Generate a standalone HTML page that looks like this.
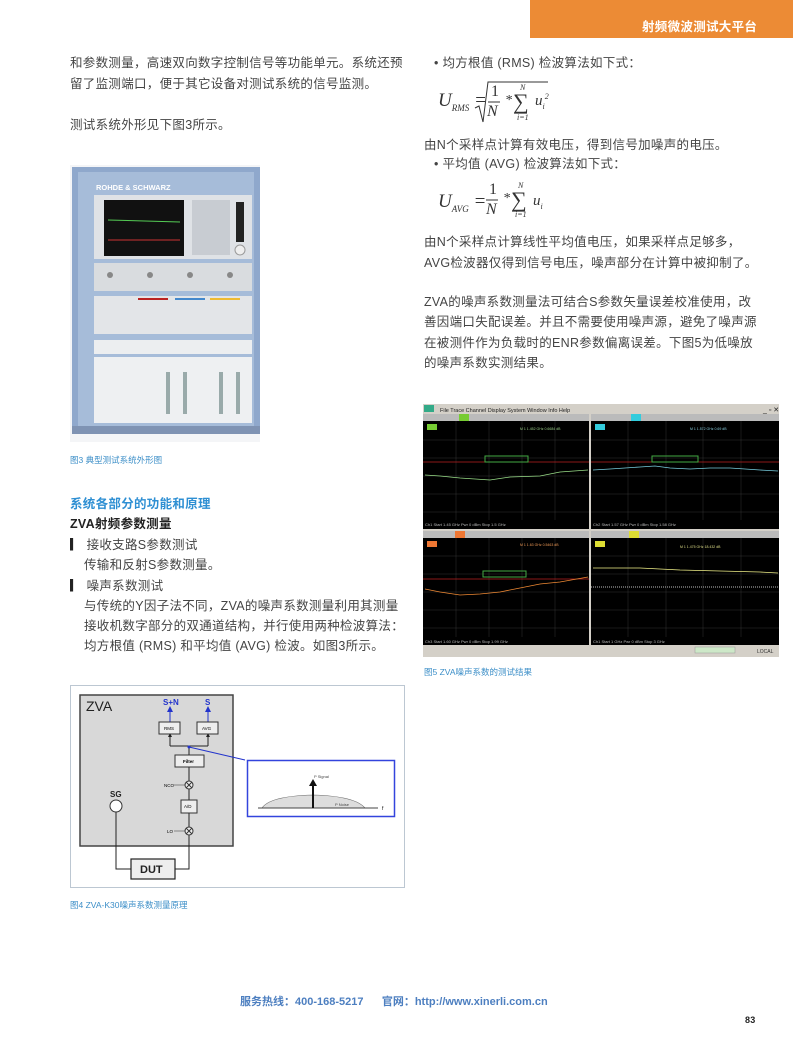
<!DOCTYPE html>
<html><head><meta charset="utf-8"><style>
body{margin:0;background:#fff;}
#p{position:relative;width:793px;height:1058px;overflow:hidden;font-family:"Liberation Sans","Noto Sans CJK SC",sans-serif;color:#444;}
.t{position:absolute;white-space:nowrap;font-size:12.5px;line-height:14px;letter-spacing:0.3px;}
.cap{position:absolute;white-space:nowrap;font-size:8.5px;color:#3d8fc8;}
.hd{color:#fff;font-weight:bold;font-size:12.5px;}
svg{position:absolute;left:0;top:0;}
.f{position:absolute;font-family:"Liberation Serif",serif;font-style:italic;color:#333;white-space:nowrap;}
</style></head><body><div id="p">
<div style="position:absolute;left:530px;top:0;width:263px;height:38px;background:#ec8b35;"></div>
<div class="t hd" style="left:642px;top:20px;">射频微波测试大平台</div>

<div class="t" style="left:70px;top:56px;">和参数测量，高速双向数字控制信号等功能单元。系统还预</div>
<div class="t" style="left:70px;top:77px;">留了监测端口，便于其它设备对测试系统的信号监测。</div>
<div class="t" style="left:70px;top:118px;">测试系统外形见下图3所示。</div>
<div class="cap" style="left:70px;top:454px;">图3 典型测试系统外形图</div>
<div class="t" style="left:70px;top:497px;color:#2e8fd3;font-weight:bold;">系统各部分的功能和原理</div>
<div class="t" style="left:70px;top:517px;color:#222;font-weight:bold;">ZVA射频参数测量</div>
<div class="t" style="left:70px;top:538px;"><b style="color:#222">&#9614;</b> 接收支路S参数测试</div>
<div class="t" style="left:84px;top:558px;">传输和反射S参数测量。</div>
<div class="t" style="left:70px;top:579px;"><b style="color:#222">&#9614;</b> 噪声系数测试</div>
<div class="t" style="left:84px;top:599px;">与传统的Y因子法不同，ZVA的噪声系数测量利用其测量</div>
<div class="t" style="left:84px;top:619px;">接收机数字部分的双通道结构，并行使用两种检波算法：</div>
<div class="t" style="left:84px;top:639px;">均方根值 (RMS) 和平均值 (AVG) 检波。如图3所示。</div>
<div class="cap" style="left:70px;top:899px;">图4  ZVA-K30噪声系数测量原理</div>

<div class="t" style="left:434px;top:56px;">• 均方根值 (RMS) 检波算法如下式：</div>
<div class="t" style="left:424px;top:138px;">由N个采样点计算有效电压，得到信号加噪声的电压。</div>
<div class="t" style="left:434px;top:157px;">• 平均值 (AVG) 检波算法如下式：</div>
<div class="t" style="left:424px;top:235px;">由N个采样点计算线性平均值电压，如果采样点足够多，</div>
<div class="t" style="left:424px;top:256px;">AVG检波器仅得到信号电压，噪声部分在计算中被抑制了。</div>
<div class="t" style="left:424px;top:295px;">ZVA的噪声系数测量法可结合S参数矢量误差校准使用，改</div>
<div class="t" style="left:424px;top:315px;">善因端口失配误差。并且不需要使用噪声源，避免了噪声源</div>
<div class="t" style="left:424px;top:336px;">在被测件作为负载时的ENR参数偏离误差。下图5为低噪放</div>
<div class="t" style="left:424px;top:356px;">的噪声系数实测结果。</div>
<div class="cap" style="left:424px;top:666px;">图5 ZVA噪声系数的测试结果</div>

<!-- formulas -->
<div class="f" style="left:438px;top:90px;font-size:19px;">U<sub style="font-size:9px">RMS</sub> =</div>
<div class="f" style="left:491px;top:83px;font-size:16px;font-style:normal;">1</div>
<div class="f" style="left:487px;top:103px;font-size:16px;">N</div>
<div class="f" style="left:505px;top:93px;font-size:14px;">*</div>
<div class="f" style="left:513px;top:89px;font-size:22px;font-style:normal;">&#8721;</div>
<div class="f" style="left:520px;top:83px;font-size:8px;">N</div>
<div class="f" style="left:517px;top:113px;font-size:8px;">i=1</div>
<div class="f" style="left:535px;top:92px;font-size:15px;">u<sub style="font-size:8px">i</sub><sup style="font-size:8px">2</sup></div>
<div class="f" style="left:438px;top:191px;font-size:19px;">U<sub style="font-size:9px">AVG</sub> =</div>
<div class="f" style="left:489px;top:181px;font-size:16px;font-style:normal;">1</div>
<div class="f" style="left:486px;top:201px;font-size:16px;">N</div>
<div class="f" style="left:503px;top:191px;font-size:14px;">*</div>
<div class="f" style="left:511px;top:187px;font-size:22px;font-style:normal;">&#8721;</div>
<div class="f" style="left:518px;top:181px;font-size:8px;">N</div>
<div class="f" style="left:515px;top:210px;font-size:8px;">i=1</div>
<div class="f" style="left:533px;top:193px;font-size:15px;">u<sub style="font-size:8px">i</sub></div>

<svg width="793" height="1058" viewBox="0 0 793 1058" font-family="Liberation Sans, sans-serif">
<line x1="488" y1="102" x2="500" y2="102" stroke="#333"/>
<path d="M475 108 L479 106 L483 122 L488 82 L548 82" fill="none" stroke="#333"/>
<line x1="486" y1="200" x2="498" y2="200" stroke="#333"/>

<!-- photo -->
<rect x="70" y="165" width="190" height="277" fill="#f4f5f7"/>
<rect x="72" y="167" width="188" height="266" fill="#8fa8cc"/>
<rect x="78" y="172" width="176" height="255" fill="#a6bcd9"/>
<text x="96" y="190" font-size="7.5" fill="#fff" font-weight="bold">ROHDE &amp; SCHWARZ</text>
<rect x="94" y="195" width="158" height="64" fill="#dfe2e6"/>
<rect x="104" y="200" width="80" height="56" fill="#111"/>
<line x1="108" y1="220" x2="180" y2="222" stroke="#5c5"/>
<line x1="108" y1="240" x2="180" y2="240" stroke="#c33"/>
<rect x="192" y="200" width="38" height="55" fill="#c8ccd2"/>
<rect x="236" y="202" width="8" height="40" fill="#222"/>
<circle cx="240" cy="250" r="5" fill="#eee" stroke="#999"/>
<rect x="94" y="263" width="158" height="28" fill="#d9dcdf"/>
<g fill="#888"><circle cx="110" cy="275" r="3"/><circle cx="150" cy="275" r="3"/><circle cx="190" cy="275" r="3"/><circle cx="230" cy="275" r="3"/></g>
<rect x="94" y="296" width="158" height="38" fill="#e3e5e8"/>
<g fill="#b22"><rect x="138" y="298" width="30" height="2"/></g><rect x="175" y="298" width="30" height="2" fill="#48c"/><rect x="210" y="298" width="30" height="2" fill="#eb3"/>
<rect x="94" y="340" width="158" height="14" fill="#eceef0"/>
<rect x="94" y="357" width="158" height="66" fill="#eef0f2"/>
<rect x="166" y="372" width="4" height="42" fill="#9aa"/><rect x="183" y="372" width="4" height="42" fill="#9aa"/>
<rect x="219" y="372" width="4" height="42" fill="#9aa"/><rect x="236" y="372" width="4" height="42" fill="#9aa"/>
<rect x="72" y="426" width="188" height="8" fill="#7f93b3"/>

<!-- diagram -->
<rect x="70.5" y="685.5" width="334" height="202" fill="#fff" stroke="#bcc7d2"/>
<rect x="80" y="695" width="153" height="151" fill="#d8d8d8" stroke="#444" stroke-width="1.5"/>
<text x="86" y="711" font-size="14" fill="#222">ZVA</text>
<text x="163" y="705" font-size="8" font-weight="bold" fill="#2233cc">S+N</text>
<text x="205" y="705" font-size="8" font-weight="bold" fill="#2233cc">S</text>
<g stroke="#222" stroke-width="1" fill="none">
<line x1="170" y1="722" x2="170" y2="710" stroke="#2233cc"/><line x1="208" y1="722" x2="208" y2="710" stroke="#2233cc"/>
<path d="M170 746 H208 M170 746 V735 M208 746 V735 M189 746 V755 M189 767 V781 M189 789 V800 M189 813 V827 M189 835 V846 M189 846 V869 H175 M116 812 V869 H131"/>
</g>
<path d="M167 712 L170 706 L173 712Z M205 712 L208 706 L211 712Z" fill="#2233cc"/>
<path d="M168 737 L170 733 L172 737Z M206 737 L208 733 L210 737Z" fill="#222"/>
<rect x="159" y="722" width="21" height="12" fill="#eee" stroke="#333"/><text x="164" y="730" font-size="4.5">RMS</text>
<rect x="197" y="722" width="21" height="12" fill="#eee" stroke="#333"/><text x="202" y="730" font-size="4.5">AVG</text>
<rect x="175" y="755" width="29" height="12" fill="#eee" stroke="#333"/><text x="183" y="763" font-size="4.5" font-weight="bold">Filter</text>
<circle cx="189" cy="785" r="4" fill="#eee" stroke="#333"/><path d="M186 782 L192 788 M192 782 L186 788" stroke="#333"/>
<text x="164" y="787" font-size="4.5">NCO</text><line x1="174" y1="785" x2="185" y2="785" stroke="#333" stroke-width=".5"/>
<rect x="181" y="800" width="16" height="13" fill="#eee" stroke="#333"/><text x="184" y="808" font-size="4.5">A/D</text>
<circle cx="189" cy="831" r="4" fill="#eee" stroke="#333"/><path d="M186 828 L192 834 M192 828 L186 834" stroke="#333"/>
<text x="167" y="833" font-size="4.5">LO</text><line x1="174" y1="831" x2="185" y2="831" stroke="#333" stroke-width=".5"/>
<text x="110" y="797" font-size="8" font-weight="bold" fill="#222">SG</text>
<circle cx="116" cy="806" r="6" fill="#fff" stroke="#333"/>
<rect x="131" y="859" width="44" height="20" fill="#eee" stroke="#222" stroke-width="1.2"/>
<text x="140" y="873" font-size="11" font-weight="bold" fill="#222">DUT</text>
<line x1="189" y1="747" x2="245" y2="760" stroke="#2233cc"/>
<circle cx="189" cy="747" r="1.5" fill="#2233cc"/>
<rect x="247.5" y="760.5" width="147" height="56" fill="#fff" stroke="#3344dd" stroke-width="1.5"/>
<path d="M262 808 Q270 796 313 795 Q355 796 365 808Z" fill="#ddd" stroke="#666" stroke-width=".6"/>
<line x1="258" y1="808" x2="378" y2="808" stroke="#444"/>
<line x1="313" y1="808" x2="313" y2="784" stroke="#111" stroke-width="2"/><path d="M309 786 L313 779 L317 786Z" fill="#111"/>
<text x="314" y="778" font-size="4" fill="#444">P Signal</text><text x="335" y="806" font-size="4" fill="#444">P Noise</text>
<text x="382" y="810" font-size="5">f</text>

<!-- screenshot -->
<rect x="423" y="404" width="356" height="253" fill="#d4d0c8"/>
<text x="440" y="412" font-size="5.5" fill="#222">File   Trace   Channel   Display   System   Window   Info   Help</text>
<rect x="424" y="405" width="10" height="7" fill="#3a8"/>
<rect x="423" y="414" width="166" height="115" fill="#000"/>
<rect x="591" y="414" width="188" height="115" fill="#000"/>
<rect x="423" y="531" width="166" height="114" fill="#000"/>
<rect x="591" y="531" width="188" height="114" fill="#000"/>
<g fill="#bbb"><rect x="423" y="414" width="166" height="7"/><rect x="591" y="414" width="188" height="7"/><rect x="423" y="531" width="166" height="7"/><rect x="591" y="531" width="188" height="7"/></g>
<rect x="459" y="414" width="10" height="7" fill="#7c3"/><rect x="631" y="414" width="10" height="7" fill="#3cd"/>
<rect x="455" y="531" width="10" height="7" fill="#e73"/><rect x="629" y="531" width="10" height="7" fill="#dd3"/>
<rect x="427" y="424" width="10" height="6" fill="#7c3"/><rect x="595" y="424" width="10" height="6" fill="#3cd"/>
<rect x="427" y="541" width="10" height="6" fill="#e73"/><rect x="595" y="541" width="10" height="6" fill="#dd3"/>
<g stroke="#333" stroke-width=".5">
<path d="M423 440H589M423 458H589M423 476H589M423 494H589M423 512H589M456 421V520M489 421V520M522 421V520M555 421V520"/>
<path d="M591 440H779M591 458H779M591 476H779M591 494H779M591 512H779M628 421V520M666 421V520M703 421V520M741 421V520"/>
<path d="M423 556H589M423 574H589M423 592H589M423 610H589M423 628H589M456 538V637M489 538V637M522 538V637M555 538V637"/>
<path d="M591 556H779M591 574H779M591 592H779M591 610H779M591 628H779M628 538V637M666 538V637M703 538V637M741 538V637"/>
</g>
<g stroke="#b22" stroke-width=".8"><line x1="423" y1="462" x2="589" y2="462"/><line x1="591" y1="462" x2="779" y2="462"/><line x1="423" y1="579" x2="589" y2="579"/></g>
<polyline points="425,475 440,476 460,478 490,480 510,477 540,476 560,472 588,470" fill="none" stroke="#9d8" stroke-width=".8"/>
<polyline points="593,470 610,469 625,468 640,467 655,466 670,468 690,469 710,468 730,468 760,470 778,471" fill="none" stroke="#7cd" stroke-width=".8"/>
<polyline points="425,589 440,592 460,595 480,594 500,592 520,588 540,584 560,582 588,577" fill="none" stroke="#e83" stroke-width=".8"/>
<polyline points="593,568 640,568 680,570 720,571 760,572 778,573" fill="none" stroke="#ee8" stroke-width=".8"/>
<line x1="591" y1="587" x2="779" y2="587" stroke="#bbb" stroke-dasharray="1,1"/>
<rect x="485" y="456" width="43" height="6" fill="none" stroke="#4a4"/>
<rect x="652" y="456" width="46" height="6" fill="none" stroke="#4a4"/>
<rect x="483" y="571" width="43" height="6" fill="none" stroke="#4a4"/>
<g font-size="4" fill="#bbb">
<text x="425" y="526">Ch1   Start 1.45 GHz          Pwr 0 dBm                  Stop 1.5 GHz</text>
<text x="593" y="526">Ch2   Start 1.57 GHz            Pwr 0 dBm                       Stop 1.58 GHz</text>
<text x="425" y="643">Ch3   Start 1.60 GHz          Pwr 0 dBm                  Stop 1.99 GHz</text>
<text x="593" y="643">Ch1   Start 1 GHz               Pwr 0 dBm                       Stop 3 GHz</text>
</g>
<g font-size="3.5"><text x="520" y="430" fill="#9c8">M 1  1.452 GHz  0.6684 dB</text><text x="690" y="430" fill="#8cd">M 1  1.572 GHz  0.69 dB</text><text x="520" y="546" fill="#e95">M 1  1.63 GHz  0.5463 dB</text><text x="680" y="548" fill="#dd8">M 1  1.475 GHz  18.432 dB</text></g>
<rect x="695" y="647" width="40" height="6" fill="#cde8c8" stroke="#999" stroke-width=".5"/>
<text x="757" y="653" font-size="5" fill="#333">LOCAL</text>
<text x="763" y="412" font-size="7" fill="#222">_ ▫ ✕</text>
</svg>

<div class="t" style="left:240px;top:995px;font-size:11px;font-weight:bold;color:#4d7fc0;letter-spacing:0;">服务热线：400-168-5217 &nbsp;&nbsp;&nbsp;&nbsp; 官网：http://www.xinerli.com.cn</div>
<div class="t" style="left:745px;top:1013px;font-size:9px;font-weight:bold;color:#222;">83</div>
</div></body></html>
